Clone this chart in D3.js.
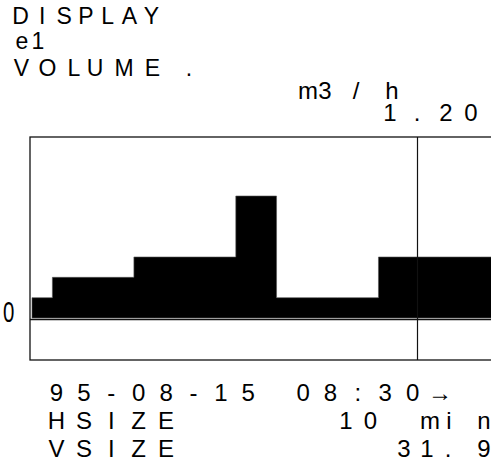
<!DOCTYPE html>
<html>
<head>
<meta charset="utf-8">
<script src="https://cdn.jsdelivr.net/npm/d3@7"></script>
<style>
    body { margin: 0; background: #fff; }
    svg { display: block; }
    text { font-family: "Liberation Sans", Arial, sans-serif; fill: #000; }
</style>
</head>
<body>
<script>
// Data: flow per 10 minute slot, starting at 95-08-15 08:30
var startTime = "1995-08-15T08:30";
var slotMinutes = 10;
var flow = [0.4, 0.8, 0.8, 0.8, 0.8, 1.2, 1.2, 1.2, 1.2, 1.2, 2.4, 2.4,
            0.4, 0.4, 0.4, 0.4, 0.4, 1.2, 1.2, 1.2, 1.2, 1.2, 1.2];
var cursorTime = "1995-08-15T11:39";
var cursorValue = "1.20";
var yMax = 3.6;

// Header / footer texts
var headerLines = ["DISPLAY", "e1", "VOLUME."];
var unitLabel = "m3/h";
var dateLabel = "95-08-15 08:30\u2192";
var hsizeLabel = ["HSIZE", "10", "min"];
var vsizeLabel = ["VSIZE", "31.9"];
var zeroLabel = "0";

var width = 491, height = 472;

var svg = d3.select("body").append("svg")
    .attr("width", width)
    .attr("height", height);

// Plot frame
var box = {left: 30, top: 137, bottom: 360, right: 520};

var t0 = d3.isoParse(startTime);
var x = d3.scaleTime()
    .domain([t0, d3.timeMinute.offset(t0, slotMinutes * 23)])
    .range([32, 32 + 20.38 * 23]);

var y = d3.scaleLinear()
    .domain([0, yMax])
    .range([318, 135]);

// step points (one extra at the end to close the last step)
var pts = flow.map(function (v, i) {
    return {t: d3.timeMinute.offset(t0, i * slotMinutes), v: v};
});
pts.push({t: d3.timeMinute.offset(t0, flow.length * slotMinutes), v: flow[flow.length - 1]});

var area = d3.area()
    .curve(d3.curveStepAfter)
    .x(function (d) { return x(d.t); })
    .y0(y(0))
    .y1(function (d) { return y(d.v); });

svg.append("path")
    .datum(pts)
    .attr("d", area)
    .attr("fill", "#000")
    .attr("stroke", "#555")
    .attr("stroke-width", 0.6);

// frame
svg.append("rect")
    .attr("x", box.left)
    .attr("y", box.top)
    .attr("width", box.right - box.left)
    .attr("height", box.bottom - box.top)
    .attr("fill", "none")
    .attr("stroke", "#111")
    .attr("stroke-width", 1.3);

// zero line
svg.append("line")
    .attr("x1", box.left).attr("x2", box.right)
    .attr("y1", y(0) + 1.5).attr("y2", y(0) + 1.5)
    .attr("stroke", "#111")
    .attr("stroke-width", 1.3);

// cursor
var cx = Math.round(x(d3.isoParse(cursorTime))) + 0.5;
svg.append("line")
    .attr("x1", cx).attr("x2", cx)
    .attr("y1", box.top).attr("y2", box.bottom)
    .attr("stroke", "#111")
    .attr("stroke-width", 1.2);

// zero label (tall narrow digit)
svg.append("text")
    .attr("transform", "translate(3," + (y(0) + 4) + ") scale(0.68,1)")
    .style("font-size", "30px")
    .text(zeroLabel);

// The display draws every glyph centred in its own cell,
// so each label gets a list of cell centres.
function cells(first, pitch, n) {
    return d3.range(n).map(function (i) { return first + i * pitch; });
}

function label(str, centres, py, size) {
    var chars = Array.from(str);
    return svg.append("text")
        .attr("x", centres.slice(0, chars.length).join(" "))
        .attr("y", py)
        .attr("text-anchor", "middle")
        .style("font-size", (size || 23) + "px")
        .text(chars.join(""));
}

label(headerLines[0], cells(20.5, 21.8, 7), 24);
label(headerLines[1], [22, 38], 49);
label(headerLines[2], [21.5, 47.5, 74, 95, 124, 152.5, 189], 76);
label(unitLabel, [308, 325, 356, 392], 99, 24);
label(cursorValue, [390, 417, 446, 471], 121, 24);

var grid = cells(56.5, 27.4, 15);
label(dateLabel, grid, 401, 24);
label(hsizeLabel[0], grid, 429, 24);
label(hsizeLabel[1], [346, 370.5], 429, 24);
label(hsizeLabel[2], [430, 449, 484], 429, 24);
label(vsizeLabel[0], grid, 457, 24);
label(vsizeLabel[1], [404, 427, 448, 484], 457, 24);
</script>
</body>
</html>
